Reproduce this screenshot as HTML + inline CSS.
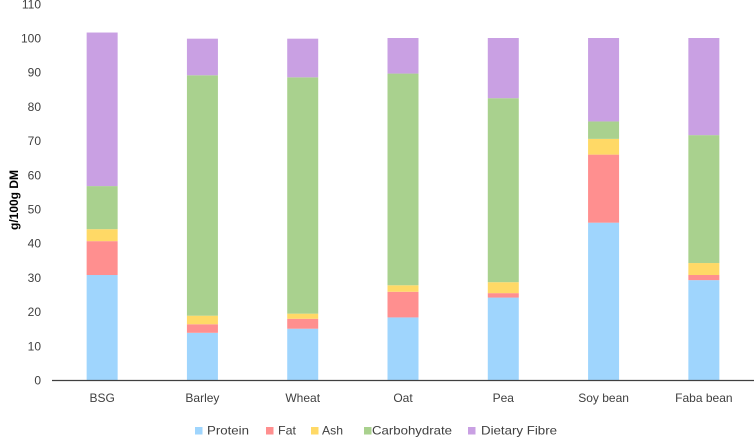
<!DOCTYPE html>
<html><head><meta charset="utf-8"><style>
body{margin:0;background:#fff;}
svg{display:block;font-family:"Liberation Sans",sans-serif;}
</style></head><body>
<svg id="chart" width="754" height="438"></svg>
<script>
const categories=["BSG","Barley","Wheat","Oat","Pea","Soy bean","Faba bean"];
const seriesNames=["Protein","Fat","Ash","Carbohydrate","Dietary Fibre"];
const protein=[30.7,13.8,15.0,18.3,24.1,46.0,29.2];
const fat=[9.9,2.5,2.9,7.5,1.3,19.9,1.5];
const ash=[3.5,2.5,1.5,1.9,3.2,4.6,3.5];
const carbohydrate=[12.6,70.3,69.1,61.9,53.8,5.1,37.4];
const fibre=[44.9,10.7,11.3,10.4,17.6,24.4,28.4];
const yTicks=[0,10,20,30,40,50,60,70,80,90,100,110];
const colors=["#9fd5fd","#ff8f8f","#ffd966","#a9d18e","#c9a0e3"];
const series=[protein,fat,ash,carbohydrate,fibre];
const NS="http://www.w3.org/2000/svg";
const svg=document.getElementById("chart");
const x0=52,x1=754,y0=380,pxPerUnit=3.42;
const band=(x1-x0)/categories.length,barW=31;
function y(v){return y0-v*pxPerUnit;}
function xc(i){return x0+band*(i+0.5);}
function mk(t,a,txt){const e=document.createElementNS(NS,t);for(const k in a)e.setAttribute(k,a[k]);if(txt!==undefined)e.textContent=txt;svg.appendChild(e);return e;}
yTicks.forEach(t=>{
 const e=mk("text",{x:41,y:y(t)+4.5,"text-anchor":"end","font-size":"12",fill:"#404040"},t);
 
 
});
const yt=mk("text",{x:0,y:0,transform:"translate(18,200) rotate(-90)","text-anchor":"middle","font-size":"12","font-weight":"bold",fill:"#000"},"g/100g DM");


categories.forEach((c,i)=>{
 let acc=0;
 series.forEach((s,j)=>{
  const r=mk("rect",{x:xc(i)-barW/2,y:y(acc+s[i]),width:barW,height:s[i]*pxPerUnit,fill:colors[j]});
  
  
  acc+=s[i];
 });
 const l=mk("text",{x:xc(i),y:402,"text-anchor":"middle","font-size":"12",fill:"#404040"},c);
 
 
});
const ax=mk("line",{x1:x0,x2:x1,y1:y0+0.5,y2:y0+0.5,stroke:"#404040","stroke-width":1.3});


const legSw=[195,266,311,364,468];
const legTx=[207,278,322,372,481];
const legW=[42,18,21,80,76];
seriesNames.forEach((n,j)=>{
 const r=mk("rect",{x:legSw[j],y:427,width:7.5,height:7.5,fill:colors[j]});
 
 
 const t=mk("text",{x:legTx[j],y:434.5,"font-size":"12",fill:"#404040",textLength:legW[j],lengthAdjust:"spacingAndGlyphs"},n);
 
 
});
</script>
</body></html>
